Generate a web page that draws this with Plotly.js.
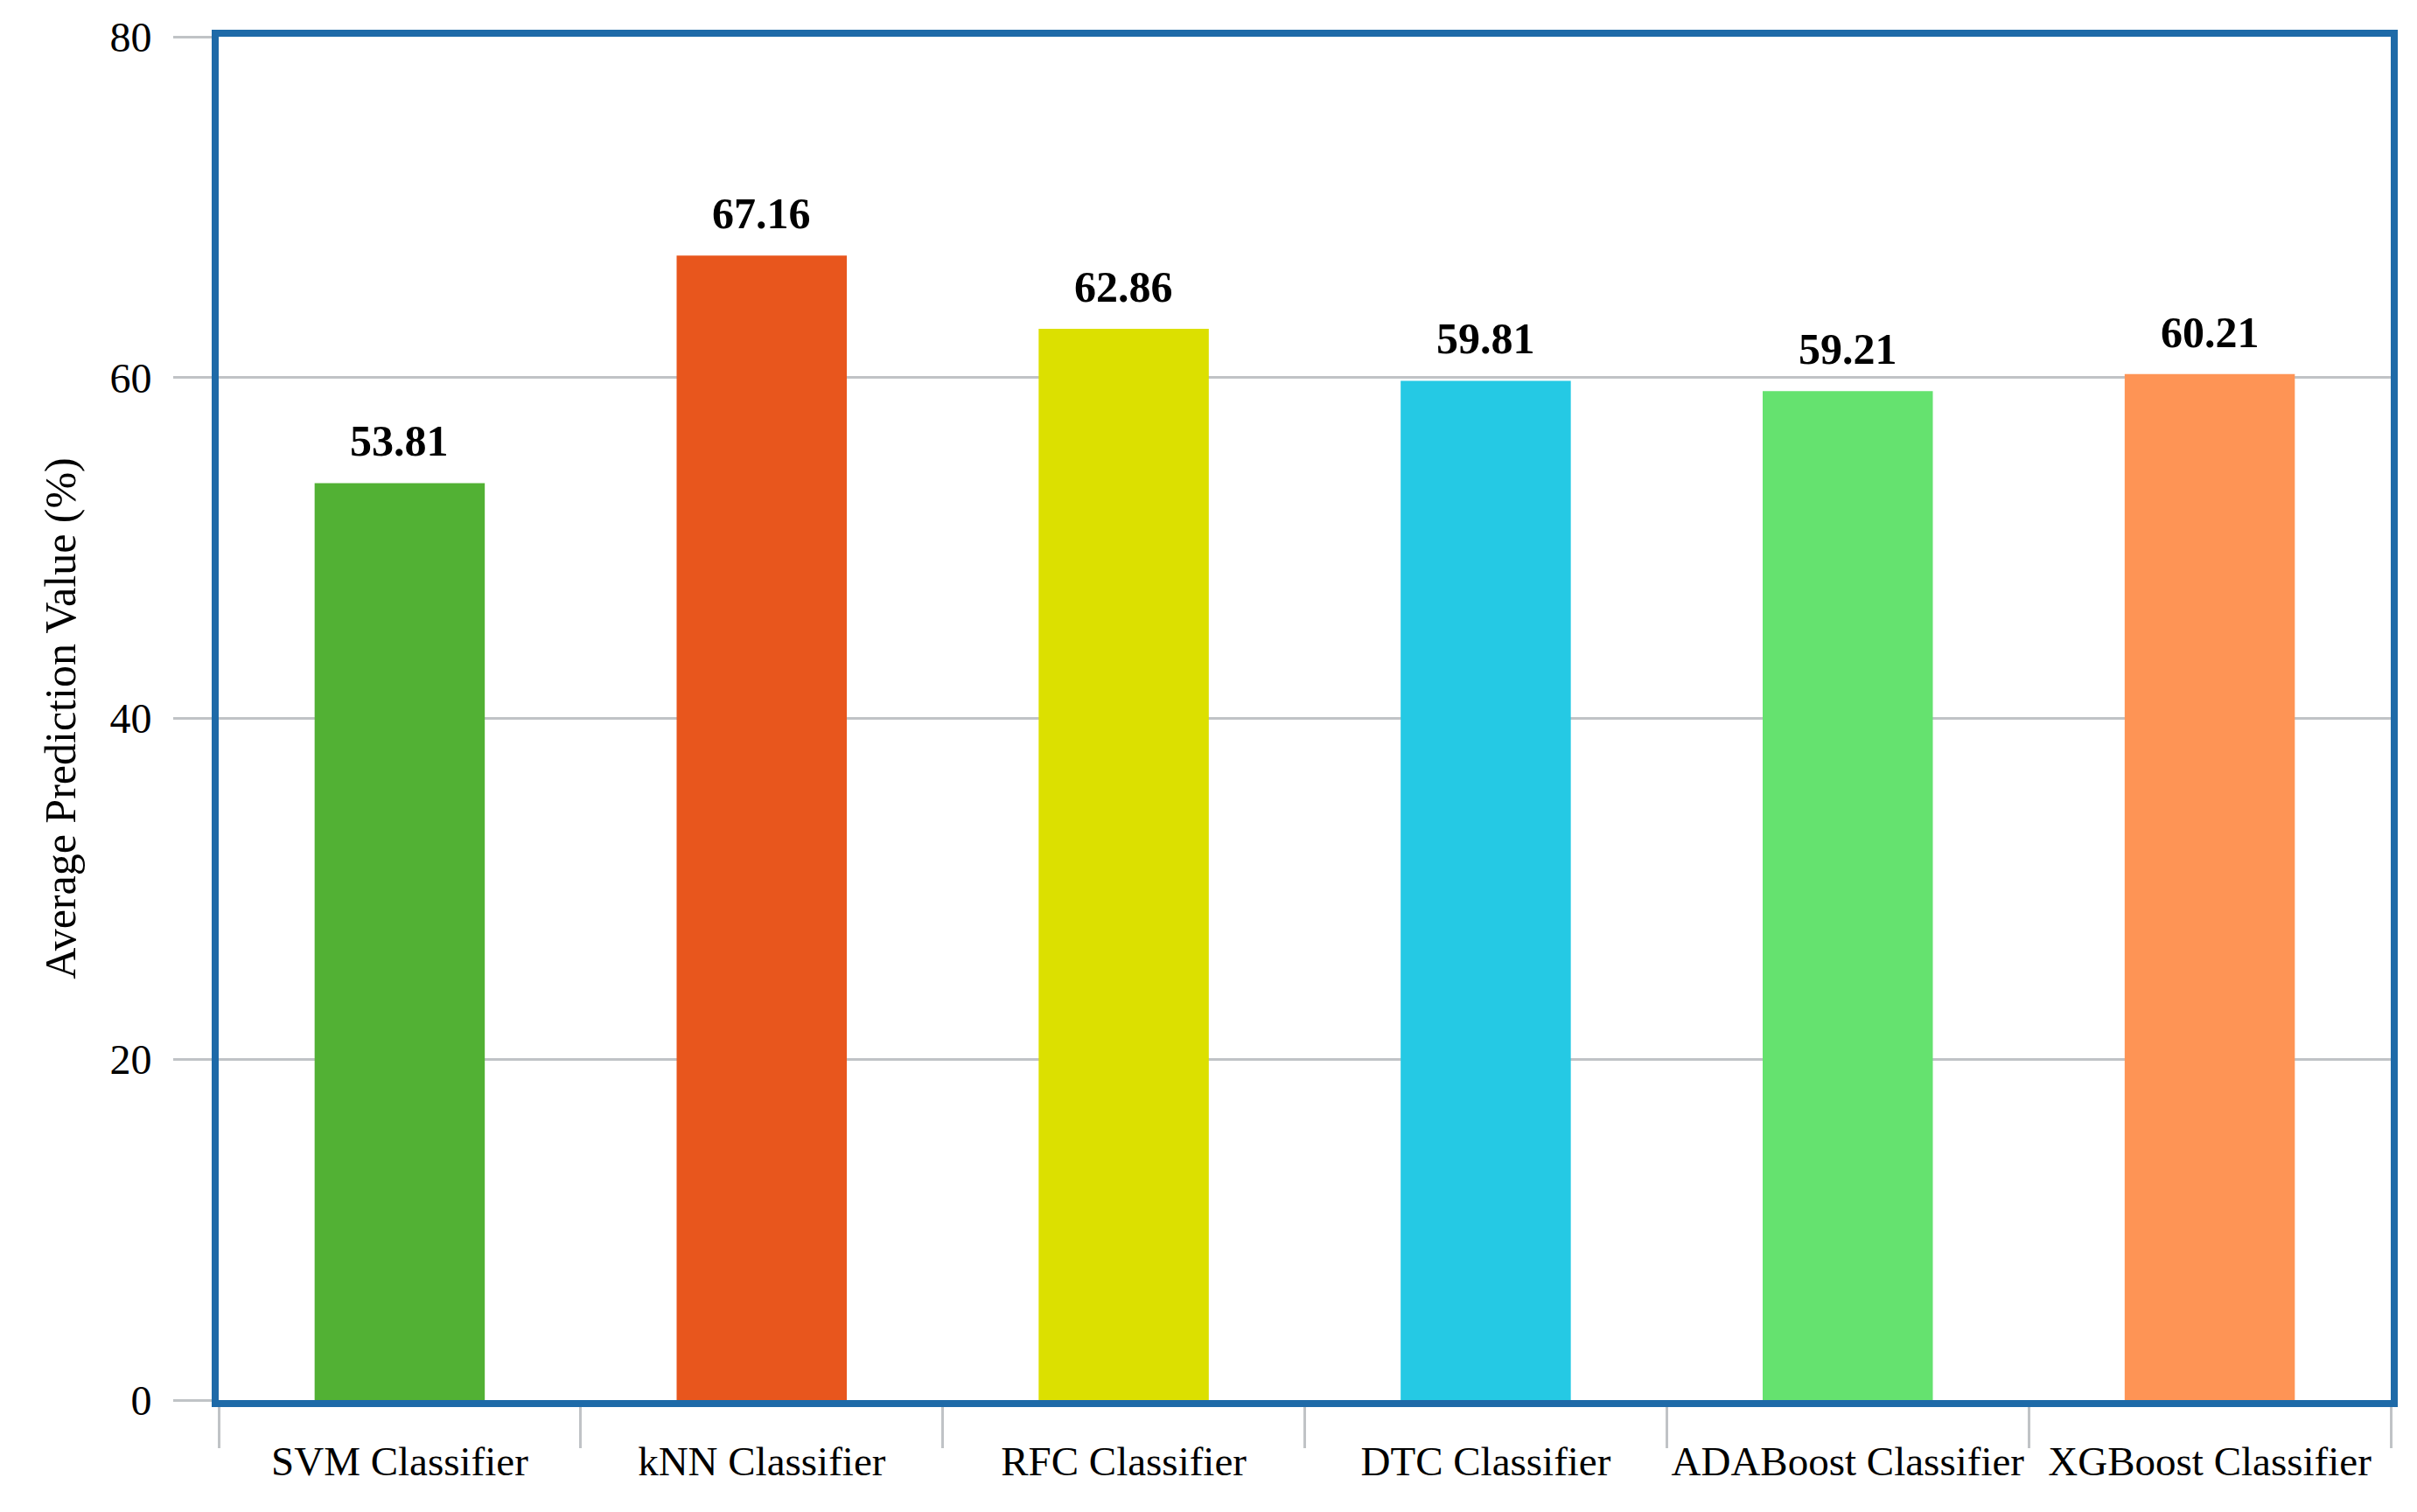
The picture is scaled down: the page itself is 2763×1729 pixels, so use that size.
<!DOCTYPE html>
<html>
<head>
<meta charset="utf-8">
<script src="https://cdn.plot.ly/plotly-3.0.1.min.js"></script>
<style>html,body{margin:0;padding:0;background:#fff;}#chart{width:2763px;height:1729px;}</style>
</head>
<body>
<div id="chart"></div>
<script>
const categories = ["SVM Classifier", "kNN Classifier", "RFC Classifier", "DTC Classifier", "ADABoost Classifier", "XGBoost Classifier"];
const values = [53.81, 67.16, 62.86, 59.81, 59.21, 60.21];
const barColors = ["#52b134", "#e8561d", "#dce000", "#25c9e4", "#65e26f", "#fe9455"];
const yTicks = [0, 20, 40, 60, 80];

const font = "Liberation Serif, Times New Roman, serif";
const blue = "#1e6aa8";
const grey = "#c0c3c6";

const trace = {
  type: "bar",
  x: categories,
  y: values,
  marker: {color: barColors, line: {width: 0}},
  hoverinfo: "x+y"
};

const annotations = categories.map((c, i) => ({
  x: c, y: values[i], xref: "x", yref: "y",
  text: values[i].toFixed(2),
  showarrow: false, yanchor: "bottom", yshift: 18,
  font: {family: font, size: 50, color: "#000", weight: "bold"}
}));

const layout = {
  width: 2763, height: 1729,
  margin: {l: 250, r: 30, t: 42, b: 128},
  paper_bgcolor: "#fff", plot_bgcolor: "#fff",
  bargap: 0.53,
  showlegend: false,
  font: {family: font, color: "#000"},
  xaxis: {
    type: "category",
    showline: true, linecolor: blue, linewidth: 8, mirror: true,
    showgrid: false, zeroline: false,
    ticks: "outside", tickson: "boundaries", ticklen: 47, tickwidth: 3, tickcolor: grey,
    ticklabelstandoff: 22, tickangle: 0,
    tickfont: {family: font, size: 47, color: "#000"}
  },
  yaxis: {
    range: [0, 80], tickvals: yTicks, ticktext: yTicks.map(String),
    showline: true, linecolor: blue, linewidth: 8, mirror: true,
    showgrid: true, gridcolor: grey, gridwidth: 3, zeroline: false,
    ticks: "outside", ticklen: 44, tickwidth: 3, tickcolor: grey,
    ticklabelstandoff: 15,
    tickfont: {family: font, size: 48, color: "#000"},
    title: {text: "Average Prediction Value (%)", font: {family: font, size: 50, color: "#000"}, standoff: 26}
  },
  annotations: annotations
};

Plotly.newPlot("chart", [trace], layout, {displayModeBar: false, staticPlot: true});
</script>
</body>
</html>
